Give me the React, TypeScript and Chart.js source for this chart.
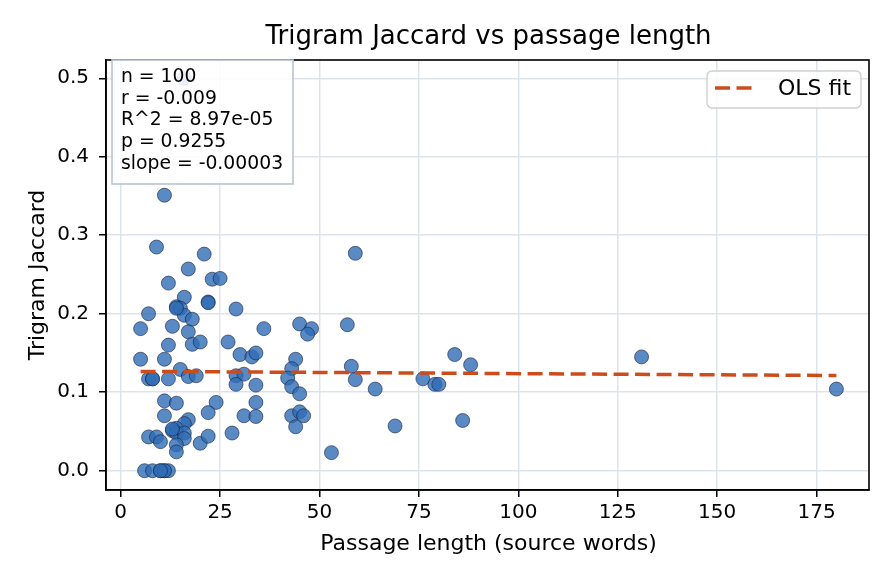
import React, { useEffect, useRef } from "react";
import { Chart, registerables } from "chart.js";

Chart.register(...registerables);

const passageLength = [
  11, 9, 21, 17, 23, 25, 12, 16, 22, 22,
  29, 7, 14, 15, 16, 18, 5, 13, 17, 12,
  18, 20, 27, 30, 33, 34, 5, 11, 15, 7,
  8, 12, 17, 19, 29, 31, 29, 34, 11, 14,
  24, 34, 22, 11, 17, 16, 14, 13, 14, 16,
  16, 7, 9, 10, 14, 14, 20, 22, 28, 31,
  34, 6, 8, 10, 11, 12, 36, 45, 48, 47,
  57, 59, 44, 43, 42, 43, 45, 58, 59, 64,
  43, 45, 46, 44, 53, 84, 88, 76, 79, 80,
  69, 86, 131, 180, 16, 11, 10, 13, 14, 8,
];

const trigramJaccard = [
  0.351, 0.285, 0.276, 0.257, 0.244, 0.245, 0.239, 0.221, 0.215, 0.214,
  0.206, 0.2, 0.209, 0.207, 0.198, 0.193, 0.181, 0.184, 0.177, 0.16,
  0.161, 0.164, 0.164, 0.148, 0.145, 0.15, 0.142, 0.142, 0.129, 0.117,
  0.117, 0.117, 0.12, 0.121, 0.121, 0.123, 0.11, 0.109, 0.089, 0.086,
  0.087, 0.087, 0.074, 0.07, 0.065, 0.06, 0.054, 0.051, 0.048, 0.048,
  0.041, 0.043, 0.043, 0.037, 0.033, 0.024, 0.035, 0.044, 0.048, 0.07,
  0.069, 0, 0, 0, 0, 0, 0.181, 0.187, 0.181, 0.174,
  0.186, 0.277, 0.142, 0.13, 0.118, 0.107, 0.098, 0.133, 0.116, 0.104,
  0.07, 0.075, 0.07, 0.056, 0.023, 0.148, 0.135, 0.117, 0.11, 0.11,
  0.057, 0.064, 0.145, 0.104, 0.5, 0, 0, 0.053, 0.207, 0.117,
];

const xTickValues = [0, 25, 50, 75, 100, 125, 150, 175];
const yTickValues = [0, 0.1, 0.2, 0.3, 0.4, 0.5];
const fitSlope = -0.00003;
const fitIntercept = 0.1267;
const statsLines = ["n = 100", "r = -0.009", "R^2 = 8.97e-05", "p = 0.9255", "slope = -0.00003"];
const titleText = "Trigram Jaccard vs passage length";
const xLabel = "Passage length (source words)";
const yLabel = "Trigram Jaccard";
const legendLabel = "OLS fit";

const FONT = "'DejaVu Sans', sans-serif";
const FIT_COLOR = "#cc4c1c";
const FIT_DASH = [15, 6.5];

export default function App() {
  const canvasRef = useRef<HTMLCanvasElement | null>(null);

  useEffect(() => {
    if (!canvasRef.current) return;
    const points = passageLength.map((x, i) => ({ x, y: trigramJaccard[i] }));
    const xMin = Math.min(...passageLength);
    const xMax = Math.max(...passageLength);
    const fitData = [
      { x: xMin, y: fitIntercept + fitSlope * xMin },
      { x: xMax, y: fitIntercept + fitSlope * xMax },
    ];

    const overlay = {
      id: "overlay",
      afterDatasetsDraw(chart: any) {
        const ctx = chart.ctx;
        const a = chart.chartArea;
        ctx.save();
        // spines
        ctx.strokeStyle = "#000";
        ctx.lineWidth = 1.6;
        ctx.strokeRect(a.left, a.top, a.right - a.left, a.bottom - a.top);

        // stats box
        ctx.fillStyle = "rgba(255,255,255,0.88)";
        ctx.fillRect(112, 60, 181, 124);
        ctx.strokeStyle = "#b8c4d4";
        ctx.lineWidth = 1.6;
        ctx.strokeRect(112, 60, 181, 124);
        ctx.fillStyle = "#000";
        ctx.font = `18.8px ${FONT}`;
        ctx.textAlign = "left";
        ctx.textBaseline = "middle";
        statsLines.forEach((s, i) => ctx.fillText(s, 121, 77 + i * 21.7));

        // legend
        const lx = 707, ly = 71, lw = 154, lh = 37, r = 5;
        ctx.beginPath();
        ctx.moveTo(lx + r, ly);
        ctx.arcTo(lx + lw, ly, lx + lw, ly + lh, r);
        ctx.arcTo(lx + lw, ly + lh, lx, ly + lh, r);
        ctx.arcTo(lx, ly + lh, lx, ly, r);
        ctx.arcTo(lx, ly, lx + lw, ly, r);
        ctx.closePath();
        ctx.fillStyle = "rgba(255,255,255,0.8)";
        ctx.fill();
        ctx.strokeStyle = "#d0d0d0";
        ctx.lineWidth = 1.4;
        ctx.stroke();
        ctx.beginPath();
        ctx.setLineDash(FIT_DASH);
        ctx.strokeStyle = FIT_COLOR;
        ctx.lineWidth = 3.5;
        ctx.moveTo(715, 88);
        ctx.lineTo(755, 88);
        ctx.stroke();
        ctx.setLineDash([]);
        ctx.fillStyle = "#000";
        ctx.font = `22px ${FONT}`;
        ctx.fillText(legendLabel, 778, 89);

        // titles
        const cx = (a.left + a.right) / 2;
        ctx.textAlign = "center";
        ctx.font = `26px ${FONT}`;
        ctx.fillText(titleText, cx + 1, 37);
        ctx.font = `22px ${FONT}`;
        ctx.fillText(xLabel, cx + 1, 544);
        ctx.translate(38, (a.top + a.bottom) / 2);
        ctx.rotate(-Math.PI / 2);
        ctx.fillText(yLabel, 0, 0);
        ctx.restore();
      },
    };

    const chart = new Chart(canvasRef.current, {
      type: "scatter",
      data: {
        datasets: [
          {
            type: "scatter",
            label: "points",
            data: points,
            order: 2,
            pointRadius: 7,
            pointHoverRadius: 7,
            backgroundColor: "rgba(47,109,181,0.8)",
            borderColor: "rgba(20,30,60,0.85)",
            borderWidth: 0.7,
          },
          {
            type: "line",
            label: legendLabel,
            data: fitData,
            order: 1,
            borderColor: FIT_COLOR,
            borderWidth: 3.5,
            borderDash: FIT_DASH,
            pointRadius: 0,
            fill: false,
          } as any,
        ],
      },
      options: {
        responsive: false,
        animation: false,
        events: [],
        layout: { padding: { left: 0, top: 60, right: 27, bottom: 0 } },
        plugins: {
          legend: { display: false },
          title: { display: false },
          tooltip: { enabled: false },
        },
        scales: {
          x: {
            type: "linear",
            min: -3.7,
            max: 188.2,
            afterFit: (s: any) => {
              s.height = 94;
            },
            afterBuildTicks: (s: any) => {
              s.ticks = xTickValues.map((v) => ({ value: v }));
            },
            grid: {
              color: "#dde3ec",
              lineWidth: 1.5,
              tickColor: "#000",
              tickLength: 7,
              tickWidth: 1.5,
            },
            border: { color: "#000", width: 1.6 },
            ticks: {
              color: "#000",
              font: { family: FONT, size: 20 },
              padding: 4,
              maxRotation: 0,
              callback: (v: any) => String(v),
            },
          },
          y: {
            type: "linear",
            min: -0.0246,
            max: 0.5233,
            afterFit: (s: any) => {
              s.width = 106;
            },
            afterBuildTicks: (s: any) => {
              s.ticks = yTickValues.map((v) => ({ value: v }));
            },
            grid: {
              color: "#dde3ec",
              lineWidth: 1.5,
              tickColor: "#000",
              tickLength: 7,
              tickWidth: 1.5,
            },
            border: { color: "#000", width: 1.6 },
            ticks: {
              color: "#000",
              font: { family: FONT, size: 20 },
              padding: 10,
              callback: (v: any) => Number(v).toFixed(1),
            },
          },
        },
      },
      plugins: [overlay],
    });
    return () => chart.destroy();
  }, []);

  return (
    <div style={{ position: "absolute", left: 0, top: 0, width: 896, height: 584, background: "#fff" }}>
      <canvas ref={canvasRef} width={896} height={584} />
    </div>
  );
}
